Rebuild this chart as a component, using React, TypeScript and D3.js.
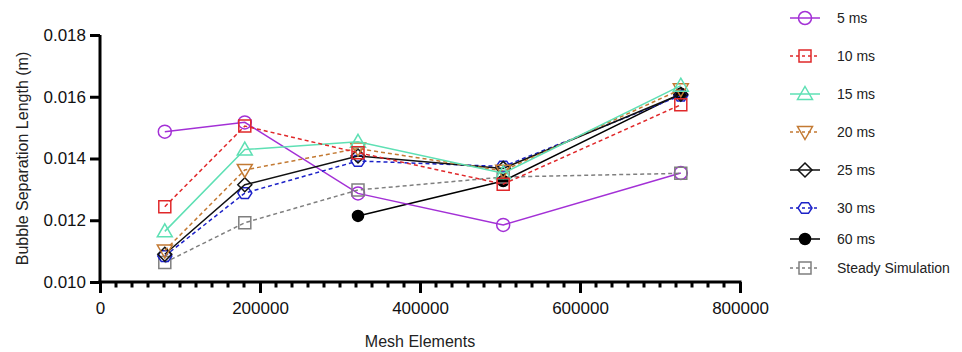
import { useEffect, useRef } from 'react';
import * as d3 from 'd3';

// mesh sizes (x) and bubble separation length (y) per time step
const meshElements = [81000, 181000, 322500, 504000, 726000];
const mesh60 = [322500, 504000, 726000];

const series5ms = [0.01487, 0.01517, 0.01287, 0.01185, 0.01353];
const series10ms = [0.01244, 0.01505, 0.01419, 0.01317, 0.01574];
const series15ms = [0.01164, 0.01429, 0.01454, 0.01352, 0.01636];
const series20ms = [0.01102, 0.01363, 0.01432, 0.01360, 0.01624];
const series25ms = [0.01090, 0.01315, 0.01408, 0.01368, 0.01608];
const series30ms = [0.01084, 0.01288, 0.01392, 0.01374, 0.01604];
const series60ms = [0.01214, 0.01327, 0.01610];
const seriesSteady = [0.01063, 0.01192, 0.01298, 0.01340, 0.01352];

const legendLabels = ['5 ms', '10 ms', '15 ms', '20 ms', '25 ms', '30 ms', '60 ms', 'Steady Simulation'];
const xTicks = [0, 200000, 400000, 600000, 800000];
const yTicks = [0.010, 0.012, 0.014, 0.016, 0.018];

type Shape = 'circle' | 'square' | 'triangle' | 'triangleDown' | 'diamond' | 'hexagon' | 'dot';

interface Series {
  label: string;
  xs: number[];
  ys: number[];
  color: string;
  dashed: boolean;
  shape: Shape;
  order: number;
}

const markerPath = (shape: Shape): string => {
  switch (shape) {
    case 'circle':
    case 'dot': {
      const r = shape === 'dot' ? 5.5 : 6.5;
      return `M${-r},0A${r},${r} 0 1,0 ${r},0A${r},${r} 0 1,0 ${-r},0Z`;
    }
    case 'square':
      return 'M-6,-6H6V6H-6Z';
    case 'triangle':
      return 'M0,-7.5L7.5,5.5H-7.5Z';
    case 'triangleDown':
      return 'M0,7.5L7.5,-5.5H-7.5Z';
    case 'diamond':
      return 'M0,-7L7,0L0,7L-7,0Z';
    case 'hexagon': {
      const pts = d3.range(6).map(i => {
        const a = (Math.PI / 3) * i;
        return [7 * Math.cos(a), 6.2 * Math.sin(a)];
      });
      return 'M' + pts.map(p => p.join(',')).join('L') + 'Z';
    }
  }
};

const App = () => {
  const ref = useRef<SVGSVGElement>(null);

  useEffect(() => {
    if (!ref.current) return;
    const svg = d3.select(ref.current);
    svg.selectAll('*').remove();

    const font = 'Liberation Sans, Arial, sans-serif';
    const left = 100, right = 740, top = 35, bottom = 282;

    const x = d3.scaleLinear().domain([0, 800000]).range([left, right]);
    const y = d3.scaleLinear().domain([0.010, 0.018]).range([bottom, top]);

    const series: Series[] = [
      { label: legendLabels[0], xs: meshElements, ys: series5ms, color: '#A330D6', dashed: false, shape: 'circle', order: 1 },
      { label: legendLabels[1], xs: meshElements, ys: series10ms, color: '#E0282A', dashed: true, shape: 'square', order: 7 },
      { label: legendLabels[2], xs: meshElements, ys: series15ms, color: '#5EE0B4', dashed: false, shape: 'triangle', order: 6 },
      { label: legendLabels[3], xs: meshElements, ys: series20ms, color: '#C37A33', dashed: true, shape: 'triangleDown', order: 5 },
      { label: legendLabels[4], xs: meshElements, ys: series25ms, color: '#111111', dashed: false, shape: 'diamond', order: 4 },
      { label: legendLabels[5], xs: meshElements, ys: series30ms, color: '#1C22C8', dashed: true, shape: 'hexagon', order: 3 },
      { label: legendLabels[6], xs: mesh60, ys: series60ms, color: '#000000', dashed: false, shape: 'dot', order: 0 },
      { label: legendLabels[7], xs: meshElements, ys: seriesSteady, color: '#7F7F7F', dashed: true, shape: 'square', order: 2 },
    ];

    const line = d3.line<[number, number]>()
      .x(d => x(d[0]))
      .y(d => y(d[1]));

    const plot = svg.append('g');
    [...series].sort((a, b) => a.order - b.order).forEach(s => {
      const pts = s.xs.map((v, i) => [v, s.ys[i]] as [number, number]);
      plot.append('path')
        .datum(pts)
        .attr('fill', 'none')
        .attr('stroke', s.color)
        .attr('stroke-width', 1.5)
        .attr('stroke-dasharray', s.dashed ? '4,3' : null)
        .attr('d', line);
      plot.selectAll(null)
        .data(pts)
        .enter()
        .append('path')
        .attr('transform', d => `translate(${x(d[0])},${y(d[1])})`)
        .attr('d', markerPath(s.shape))
        .attr('fill', s.shape === 'dot' ? s.color : 'none')
        .attr('stroke', s.color)
        .attr('stroke-width', 1.5);
    });

    // axes
    const yAxis = svg.append('g')
      .attr('transform', `translate(${left},0)`)
      .call(d3.axisLeft(y).tickValues(yTicks).tickSize(10).tickPadding(4).tickFormat(d3.format('.3f')));
    yAxis.select('.domain').attr('stroke-width', 3).attr('d', `M0,${top}V${bottom + 1.5}`);
    yAxis.selectAll('.tick line').attr('stroke-width', 3);
    yAxis.selectAll('.tick text').attr('font-size', 17).attr('font-family', font).attr('fill', '#111');

    const xAxis = svg.append('g')
      .attr('transform', `translate(0,${bottom})`)
      .call(d3.axisBottom(x).tickValues(xTicks).tickSize(11).tickPadding(9).tickFormat(d3.format('d')));
    xAxis.select('.domain').attr('stroke-width', 3).attr('d', `M${left - 1.5},0H${right + 1.5}`);
    xAxis.selectAll('.tick line').attr('stroke-width', 3);
    xAxis.selectAll('.tick text').attr('font-size', 17).attr('font-family', font).attr('fill', '#111');

    const minor = d3.range(0, 800001, 20000).filter(v => v % 200000 !== 0);
    xAxis.selectAll('.minor')
      .data(minor)
      .enter()
      .append('line')
      .attr('x1', d => x(d))
      .attr('x2', d => x(d))
      .attr('y1', 0)
      .attr('y2', 5.5)
      .attr('stroke', '#000')
      .attr('stroke-width', 3);

    svg.append('text')
      .attr('transform', `translate(22,${(top + bottom) / 2}) rotate(-90)`)
      .attr('text-anchor', 'middle')
      .attr('dy', '0.35em')
      .attr('font-size', 16)
      .attr('font-family', font)
      .attr('fill', '#222')
      .text('Bubble Separation Length (m)');

    svg.append('text')
      .attr('x', (left + right) / 2)
      .attr('y', 341)
      .attr('text-anchor', 'middle')
      .attr('dy', '0.35em')
      .attr('font-size', 16)
      .attr('font-family', font)
      .attr('fill', '#222')
      .text('Mesh Elements');

    // legend
    const rowY = [18, 56, 94, 132, 170, 208, 239, 268];
    const legend = svg.append('g');
    series.forEach((s, i) => {
      const g = legend.append('g').attr('transform', `translate(805,${rowY[i]})`);
      g.append('line')
        .attr('x1', -15).attr('x2', 15)
        .attr('stroke', s.color)
        .attr('stroke-width', 1.5)
        .attr('stroke-dasharray', s.dashed ? '3,3' : null);
      g.append('path')
        .attr('d', markerPath(s.shape))
        .attr('fill', s.shape === 'dot' ? s.color : '#fff')
        .attr('fill-opacity', s.shape === 'dot' ? 1 : 0)
        .attr('stroke', s.color)
        .attr('stroke-width', 1.5);
      g.append('text')
        .attr('x', 32)
        .attr('dy', '0.35em')
        .attr('font-size', 14)
        .attr('font-family', font)
        .attr('fill', '#222')
        .text(s.label);
    });
  }, []);

  return (
    <div style={{ position: 'absolute', left: 0, top: 0 }}>
      <svg ref={ref} width={962} height={352} style={{ display: 'block', background: '#fff' }} />
    </div>
  );
};

export default App;
